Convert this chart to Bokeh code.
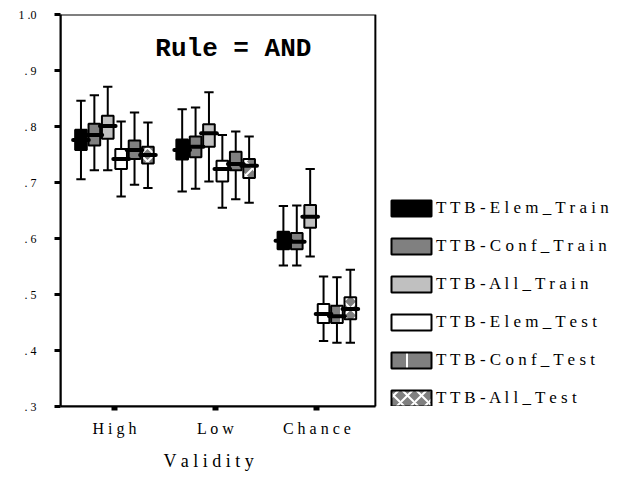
from bokeh.plotting import figure
from bokeh.models import (Legend, LegendItem, Label, Range1d, FixedTicker,
                          BoxAnnotation, Title)
from bokeh.embed import file_html
from bokeh.resources import INLINE

# ---------------- data ----------------
categories = ["High", "Low", "Chance"]
x_tick_labels = ["H i g h", "L o w", "C h a n c e"]
y_ticks = [0.3, 0.4, 0.5, 0.6, 0.7, 0.8, 0.9, 1.0]
y_tick_labels = [". 3", ". 4", ". 5", ". 6", ". 7", ". 8", ". 9", "1 .0"]

series_names = ["TTB-Elem_Train", "TTB-Conf_Train", "TTB-All_Train",
                "TTB-Elem_Test", "TTB-Conf_Test", "TTB-All_Test"]
legend_labels = ["T T B - E l e m _ T r a i n",
                 "T T B - C o n f _ T r a i n",
                 "T T B - A l l _ T r a i n",
                 "T T B - E l e m _ T e s t",
                 "T T B - C o n f _ T e s t",
                 "T T B - A l l _ T e s t"]

# values per category (High, Low, Chance)
elem_train_low = [0.706, 0.684, 0.552]
elem_train_q1 = [0.758, 0.741, 0.581]
elem_train_med = [0.776, 0.758, 0.596]
elem_train_q3 = [0.794, 0.777, 0.612]
elem_train_high = [0.846, 0.831, 0.658]

conf_train_low = [0.722, 0.689, 0.552]
conf_train_q1 = [0.766, 0.745, 0.581]
conf_train_med = [0.785, 0.764, 0.594]
conf_train_q3 = [0.805, 0.782, 0.610]
conf_train_high = [0.856, 0.834, 0.659]

all_train_low = [0.722, 0.702, 0.568]
all_train_q1 = [0.778, 0.764, 0.619]
all_train_med = [0.801, 0.788, 0.639]
all_train_q3 = [0.819, 0.804, 0.660]
all_train_high = [0.871, 0.861, 0.724]

elem_test_low = [0.675, 0.655, 0.417]
elem_test_q1 = [0.724, 0.702, 0.449]
elem_test_med = [0.742, 0.724, 0.465]
elem_test_q3 = [0.760, 0.739, 0.483]
elem_test_high = [0.809, 0.785, 0.532]

conf_test_low = [0.696, 0.670, 0.414]
conf_test_q1 = [0.742, 0.722, 0.449]
conf_test_med = [0.758, 0.733, 0.461]
conf_test_q3 = [0.775, 0.755, 0.480]
conf_test_high = [0.825, 0.791, 0.531]

all_test_low = [0.690, 0.664, 0.414]
all_test_q1 = [0.734, 0.708, 0.456]
all_test_med = [0.749, 0.730, 0.474]
all_test_q3 = [0.764, 0.742, 0.495]
all_test_high = [0.807, 0.782, 0.544]

stats = [
    (elem_train_low, elem_train_q1, elem_train_med, elem_train_q3, elem_train_high),
    (conf_train_low, conf_train_q1, conf_train_med, conf_train_q3, conf_train_high),
    (all_train_low, all_train_q1, all_train_med, all_train_q3, all_train_high),
    (elem_test_low, elem_test_q1, elem_test_med, elem_test_q3, elem_test_high),
    (conf_test_low, conf_test_q1, conf_test_med, conf_test_q3, conf_test_high),
    (all_test_low, all_test_q1, all_test_med, all_test_q3, all_test_high),
]

# ---------------- styles ----------------
fills = ["#000000", "#808080", "#c0c0c0", "#ffffff", "#808080", "#808080"]
hatches = [None, None, None, None, "vertical_line", "diagonal_cross"]
hatch_scales = [12, 12, 12, 12, 40, 14]

SERIF = "Liberation Serif"

# visible plot box spans x_lo..x_hi; the frame is wider to hold the legend
x_lo, x_hi = 0.467, 3.578
x_frame_end = 6.0
y_lo, y_hi = 0.3, 1.0

p = figure(width=627, height=480, output_backend="svg", toolbar_location=None,
           x_range=Range1d(x_lo, x_frame_end), y_range=Range1d(y_lo, y_hi),
           min_border_left=60, min_border_right=7, min_border_top=14,
           min_border_bottom=72)
p.background_fill_color = "white"
p.border_fill_color = "white"
p.outline_line_color = None
p.xgrid.visible = False
p.ygrid.visible = False

p.add_layout(BoxAnnotation(left=x_lo, right=x_hi, bottom=y_lo, top=y_hi,
                           fill_alpha=0, line_color="black", line_width=2,
                           line_alpha=1))

xpos = [1, 2, 3]
step = 0.1323
bw = 0.115
capw = 0.092
ext = 0.02

box_renderers = []
med_data = []
for s, (lo, q1, md, q3, hi) in enumerate(stats):
    off = (s - 2.5) * step
    xs = [x + off for x in xpos]
    p.segment(x0=xs, y0=lo, x1=xs, y1=hi, line_color="black", line_width=2)
    p.segment(x0=[x - capw / 2 for x in xs], y0=lo, x1=[x + capw / 2 for x in xs],
              y1=lo, line_color="black", line_width=2)
    p.segment(x0=[x - capw / 2 for x in xs], y0=hi, x1=[x + capw / 2 for x in xs],
              y1=hi, line_color="black", line_width=2)
    kw = {}
    if hatches[s]:
        kw = dict(hatch_pattern=hatches[s], hatch_color="white",
                  hatch_scale=hatch_scales[s], hatch_weight=2)
    r = p.quad(left=[x - bw / 2 for x in xs], right=[x + bw / 2 for x in xs],
               bottom=q1, top=q3, fill_color=fills[s], line_color="black",
               line_width=2, **kw)
    box_renderers.append(r)
    med_data.append((xs, md))

for xs, md in med_data:
    p.segment(x0=[x - bw / 2 - ext for x in xs], y0=md,
              x1=[x + bw / 2 + ext for x in xs], y1=md,
              line_color="black", line_width=4, line_cap="round")

title = Label(x=2.175, y=0.938, text="Rule = AND", text_font="Liberation Mono",
              text_font_style="bold", text_font_size="26px", text_align="center",
              text_baseline="alphabetic", text_color="black")
p.add_layout(title)

# axes
p.xaxis.ticker = FixedTicker(ticks=xpos)
p.xaxis.bounds = (x_lo, x_hi)
p.xaxis.major_label_overrides = {x: lab for x, lab in zip(xpos, x_tick_labels)}
p.xaxis.major_label_text_font = SERIF
p.xaxis.major_label_text_font_size = "16px"
p.xaxis.major_label_text_color = "black"
p.xaxis.major_tick_in = 0
p.xaxis.major_tick_out = 4
p.xaxis.major_tick_line_width = 6
p.xaxis.major_label_standoff = 9
p.xaxis.minor_tick_line_color = None
p.xaxis.axis_line_color = "black"
p.xaxis.axis_line_width = 2

# x axis title, placed under the visible plot box
p.add_layout(Title(text="V a l i d i t y", align="left", offset=103,
                   text_font=SERIF, text_font_size="18px",
                   text_font_style="normal", text_color="black", standoff=19),
             "below")

p.yaxis.ticker = FixedTicker(ticks=y_ticks)
p.yaxis.major_label_overrides = {v: lab for v, lab in zip(y_ticks, y_tick_labels)}
p.yaxis.major_label_text_font = SERIF
p.yaxis.major_label_text_font_size = "12px"
p.yaxis.major_label_text_color = "black"
p.yaxis.major_tick_in = 0
p.yaxis.major_tick_out = 6
p.yaxis.major_tick_line_width = 3
p.yaxis.major_label_standoff = 18
p.yaxis.minor_tick_line_color = None
p.yaxis.axis_line_color = "black"
p.yaxis.axis_line_width = 2

legend = Legend(items=[LegendItem(label=lab, renderers=[r])
                       for lab, r in zip(legend_labels, box_renderers)],
                location=(326, -2), glyph_width=50, glyph_height=20,
                label_standoff=0, spacing=18, padding=0, margin=0,
                label_height=20, border_line_alpha=0, background_fill_alpha=0,
                label_text_font=SERIF, label_text_font_size="17px",
                label_text_color="black")
p.add_layout(legend)

open("out.html", "w").write(file_html(p, INLINE))
